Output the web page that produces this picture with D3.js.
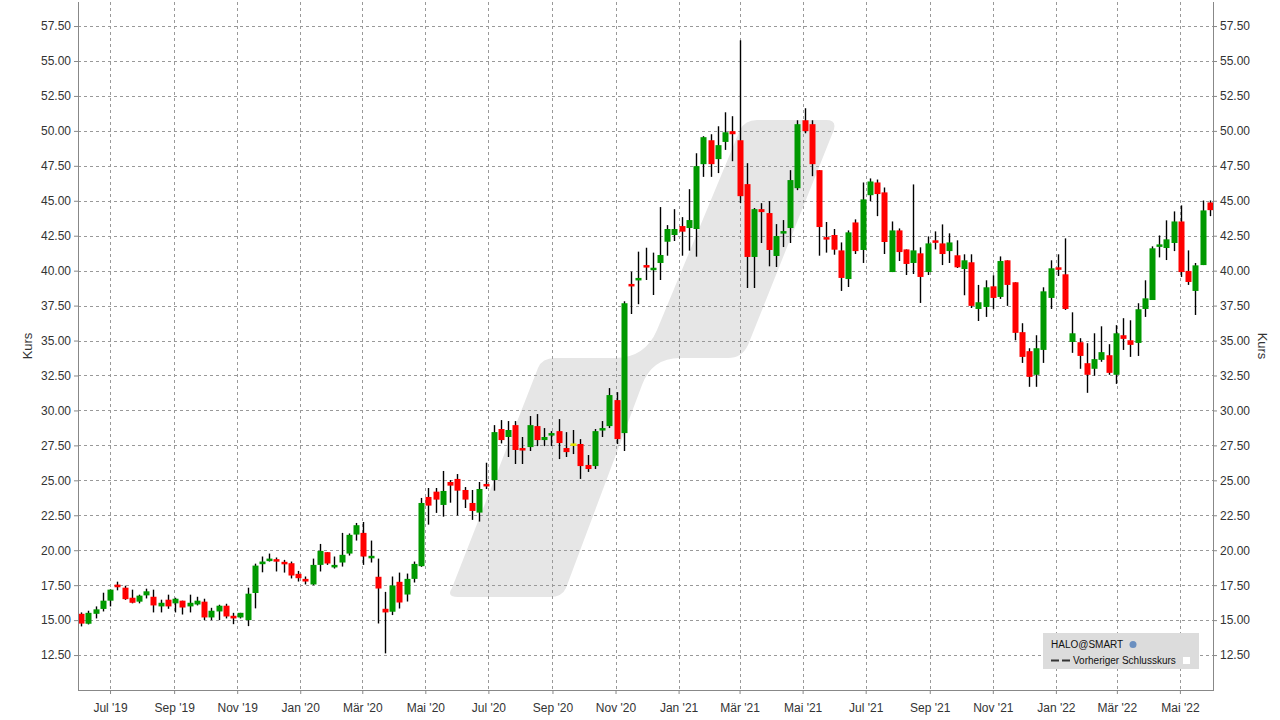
<!DOCTYPE html>
<html><head><meta charset="utf-8">
<script src="https://cdn.jsdelivr.net/npm/d3@7"></script>
<style>body{margin:0;background:#fff;}svg{display:block;font-family:"Liberation Sans",Arial,sans-serif;}</style>
</head><body><svg id="c" width="1280" height="720"></svg>
<script>
const firstWeek = "2019-06-03";
const opens  = [15.45,14.74,15.45,15.8,16.39,17.54,17.32,16.6,16.32,16.77,16.67,15.98,16.46,16.2,16.39,15.98,16.12,16.32,15.19,15.62,16.03,15.31,15.19,15.0,16.94,19.0,19.26,19.36,19.17,19.07,18.31,17.95,17.55,18.95,19.86,18.83,19.12,19.76,21.12,21.24,19.48,18.1,15.81,15.6,17.74,16.83,17.95,18.86,23.81,24.19,23.24,24.88,25.1,24.31,23.38,22.69,24.74,25.02,28.67,28.1,28.95,27.31,27.38,28.88,27.88,28.24,28.52,27.31,27.64,27.6,26.1,26.02,28.6,28.88,30.74,28.38,39.05,39.36,40.4,40.07,40.55,42.07,42.55,43.19,43.05,42.98,47.62,49.33,47.98,49.21,49.98,49.33,46.19,40.98,44.4,44.12,41.05,42.69,43.05,45.9,50.76,50.48,47.19,42.4,42.55,41.45,39.4,43.45,41.48,45.4,46.31,45.6,39.9,42.88,41.52,40.55,41.24,39.9,42.17,41.95,41.4,41.1,40.12,40.6,37.26,37.4,38.88,38.12,40.74,39.17,35.6,34.24,32.55,34.33,38.05,40.24,39.74,34.9,34.88,33.38,32.98,33.62,33.95,32.55,35.38,35.02,34.83,37.26,37.9,41.74,41.62,41.98,43.52,39.98,38.55,40.4,44.88];
const highs  = [15.55,15.67,15.98,16.96,17.2,17.75,17.46,17.18,16.82,17.25,17.18,16.46,16.82,16.6,16.39,16.82,16.67,16.53,15.88,16.1,16.17,15.52,15.52,17.32,19.04,19.55,19.76,19.48,19.31,19.19,18.52,18.12,19.4,20.45,19.86,19.55,21.24,21.2,21.95,22.02,20.69,19.4,17.02,18.12,18.4,18.33,19.19,23.74,24.45,24.45,25.67,25.02,25.45,24.52,24.31,24.88,26.26,28.95,29.31,29.24,29.24,28.1,29.6,29.74,28.74,28.52,29.38,28.45,28.6,27.95,26.81,28.67,29.24,31.6,31.31,37.81,39.93,41.36,41.64,41.29,44.55,43.26,44.4,43.83,45.83,48.4,49.62,49.76,50.33,51.33,51.05,56.48,47.69,44.48,44.83,44.98,43.33,43.62,47.19,50.76,51.62,50.76,47.19,43.48,42.98,42.02,42.88,43.67,46.31,46.6,46.52,45.95,43.52,43.02,41.52,46.17,41.67,42.45,42.81,43.31,42.67,42.17,41.17,41.17,38.98,39.31,39.67,41.02,40.74,39.17,36.24,34.45,35.38,38.81,40.74,41.17,42.31,37.02,35.17,34.81,35.52,36.02,34.74,36.1,36.6,36.45,37.67,39.31,41.74,42.52,43.6,44.24,44.67,41.45,40.55,45.02,45.02];
const lows   = [14.55,14.69,15.12,15.62,15.98,17.13,16.45,16.2,16.2,16.55,15.55,15.55,15.81,15.55,15.4,15.55,16.05,15.0,15.0,15.0,15.12,14.71,15.12,14.57,15.84,18.42,19.19,18.48,18.4,17.98,17.76,17.55,17.5,18.48,18.95,18.69,18.83,19.62,20.69,18.95,19.12,14.76,12.62,15.36,15.83,16.33,17.69,18.81,21.83,22.67,22.4,23.4,22.48,23.02,22.17,22.05,24.38,24.26,27.64,26.67,26.17,26.17,27.1,27.45,27.45,27.45,26.52,26.67,26.88,25.1,25.6,25.81,28.1,28.74,27.6,27.1,36.9,37.6,39.33,38.26,39.33,41.07,42.12,41.07,41.43,41.0,46.71,46.71,46.98,48.64,47.83,44.83,38.76,38.76,41.98,40.31,40.26,41.69,41.98,45.76,49.83,46.76,41.07,41.29,41.14,38.55,38.83,41.19,40.55,44.98,43.9,41.19,39.9,40.69,39.69,39.76,37.69,39.69,41.52,40.4,40.55,40.19,38.24,37.33,36.4,36.69,37.26,37.98,37.48,35.02,33.4,31.69,31.69,33.4,37.26,39.62,37.19,34.12,32.98,31.26,32.48,33.48,32.55,31.9,34.33,33.83,33.9,36.69,37.9,40.95,40.76,41.4,39.55,38.98,36.83,40.4,43.9];
const closes = [14.75,15.52,15.77,16.39,17.18,17.35,16.5,16.24,16.75,17.06,16.05,16.24,15.98,16.53,15.9,16.24,16.39,15.19,15.67,16.03,15.26,15.12,15.52,16.89,18.9,19.19,19.4,19.21,19.0,18.19,18.0,17.76,18.95,19.95,19.05,18.95,19.67,21.1,21.79,19.55,19.6,17.26,15.55,17.48,16.26,17.95,19.02,23.38,23.19,23.62,24.24,24.62,24.26,23.62,22.81,24.38,24.6,28.45,27.88,28.6,27.17,27.17,28.95,27.88,28.1,28.38,27.67,27.02,27.64,26.02,25.81,28.52,28.74,31.1,27.95,37.67,38.93,39.48,40.26,40.21,41.12,42.98,42.98,42.79,43.62,47.48,49.55,47.62,48.98,49.9,49.76,45.33,40.98,44.4,44.19,41.48,42.48,42.83,46.48,50.48,49.98,47.62,43.12,42.26,41.5,39.48,42.74,41.4,45.1,46.38,45.48,42.05,42.88,41.33,40.48,41.45,39.55,41.95,42.05,41.19,42.02,40.24,40.74,37.48,37.74,38.81,38.05,40.69,38.98,35.55,33.83,32.4,34.45,38.52,40.17,40.12,37.26,35.52,33.9,32.55,33.67,34.17,32.69,35.52,35.12,34.69,37.24,38.02,41.6,41.88,42.24,43.52,39.9,39.19,40.38,44.31,44.33];
const tickDates  = ["2019-07-01","2019-09-01","2019-11-01","2020-01-01","2020-03-01","2020-05-01","2020-07-01","2020-09-01","2020-11-01","2021-01-01","2021-03-01","2021-05-01","2021-07-01","2021-09-01","2021-11-01","2022-01-01","2022-03-01","2022-05-01"];
const tickLabels = ["Jul '19","Sep '19","Nov '19","Jan '20","Mär '20","Mai '20","Jul '20","Sep '20","Nov '20","Jan '21","Mär '21","Mai '21","Jul '21","Sep '21","Nov '21","Jan '22","Mär '22","Mai '22"];
const yTicks = d3.range(12.5, 57.6, 2.5);

const svg = d3.select("#c");
const L=78, R=1213, T=2, B=690;
const parse = d3.utcParse("%Y-%m-%d");
const d0 = parse(firstWeek);
const dates = opens.map((_,i)=>d3.utcDay.offset(d0, 7*i));
const pad = 3*86400000;
const x = d3.scaleUtc().domain([+dates[0]-pad, +dates[dates.length-1]+pad]).range([L,R]);
const y = d3.scaleLinear().domain([10, 10+(B-T)/13.978]).range([B,T]);

svg.append("path").attr("fill","#e6e6e6")
  .attr("d","M452,588 L538,368 Q542,358 555,358 L615,358 Q645,358 657,330 L740,130 Q745,120 757,120 L826,120 Q838,120 833,132 L748,345 Q742,358 728,358 L680,358 Q652,358 642,385 L566,588 Q562,597 550,597 L458,597 Q446,597 452,588 Z");

const dash="3,3";
svg.append("g").selectAll("line").data(yTicks).join("line")
  .attr("x1",L).attr("x2",R).attr("y1",d=>Math.round(y(d))+0.5).attr("y2",d=>Math.round(y(d))+0.5)
  .attr("stroke","#999").attr("stroke-dasharray",dash);
svg.append("g").selectAll("line").data(tickDates).join("line")
  .attr("x1",d=>Math.round(x(parse(d)))+0.5).attr("x2",d=>Math.round(x(parse(d)))+0.5).attr("y1",T).attr("y2",B)
  .attr("stroke","#999").attr("stroke-dasharray",dash);

const g = svg.append("g");
const bw = 5;
opens.forEach((o,i)=>{
  const c=closes[i], cx=Math.round(x(dates[i]))+0.5;
  const col = c>o ? "#009900" : (c<o ? "#ff0000" : "#e6e600");
  g.append("line").attr("x1",cx).attr("x2",cx).attr("y1",y(highs[i])).attr("y2",y(lows[i]))
    .attr("stroke","#000").attr("stroke-width",1.4);
  const top=y(Math.max(o,c)), h=Math.max(2.5, y(Math.min(o,c))-top);
  g.append("rect").attr("x",cx-bw/2-0.5).attr("y",top).attr("width",bw+1).attr("height",h).attr("fill",col);
});

svg.append("line").attr("x1",L+0.5).attr("x2",L+0.5).attr("y1",T).attr("y2",B).attr("stroke","#888");
svg.append("line").attr("x1",R+0.5).attr("x2",R+0.5).attr("y1",T).attr("y2",B).attr("stroke","#888");
svg.append("line").attr("x1",L).attr("x2",R+1).attr("y1",B+0.5).attr("y2",B+0.5).attr("stroke","#888");

const yl = svg.append("g").attr("transform",`translate(${L},0)`)
  .call(d3.axisLeft(y).tickValues(yTicks).tickFormat(d3.format(".2f")).tickSize(4));
const yr = svg.append("g").attr("transform",`translate(${R},0)`)
  .call(d3.axisRight(y).tickValues(yTicks).tickFormat(d3.format(".2f")).tickSize(4));
const xa = svg.append("g").attr("transform",`translate(0,${B})`)
  .call(d3.axisBottom(x).tickValues(tickDates.map(parse)).tickFormat((d,i)=>tickLabels[i]).tickSize(4));
[yl,yr,xa].forEach(a=>{a.select(".domain").remove();a.selectAll("line").attr("stroke","#888");
  a.selectAll("text").attr("font-size",12).attr("fill","#333").attr("font-family","Liberation Sans, Arial, sans-serif");});
xa.selectAll("text").attr("dy","1.25em");

svg.append("text").attr("transform","translate(32,346) rotate(-90)").attr("text-anchor","middle")
  .attr("font-size",13).attr("fill","#333").text("Kurs");
svg.append("text").attr("transform","translate(1258,346) rotate(90)").attr("text-anchor","middle")
  .attr("font-size",13).attr("fill","#333").text("Kurs");

const lg = svg.append("g");
lg.append("rect").attr("x",1043).attr("y",633).attr("width",156).attr("height",36).attr("fill","#dcdcdc");
lg.append("text").attr("x",1051).attr("y",648).attr("font-size",10).attr("fill","#111").text("HALO@SMART");
lg.append("circle").attr("cx",1133).attr("cy",644.5).attr("r",3.5).attr("fill","#6a8fc0");
lg.append("line").attr("x1",1051).attr("x2",1070).attr("y1",660.5).attr("y2",660.5).attr("stroke","#333").attr("stroke-width",2).attr("stroke-dasharray","8,3");
lg.append("text").attr("x",1073).attr("y",664).attr("font-size",10).attr("fill","#111").text("Vorheriger Schlusskurs");
lg.append("rect").attr("x",1183).attr("y",657).attr("width",7).attr("height",7).attr("fill","#fff");
</script></body></html>
